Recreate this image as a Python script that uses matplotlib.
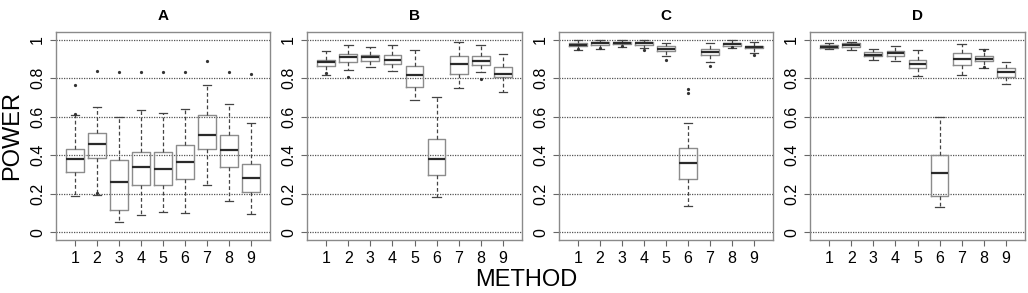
import matplotlib
matplotlib.use("Agg")
import matplotlib.pyplot as plt

plt.rcParams['font.family'] = ['Liberation Sans', 'DejaVu Sans']

panels = ["A", "B", "C", "D"]
methods = [1, 2, 3, 4, 5, 6, 7, 8, 9]
yticks = [0, 0.2, 0.4, 0.6, 0.8, 1]
ytick_labels = ["0", "0.2", "0.4", "0.6", "0.8", "1"]

# per panel: lower whisker, Q1, median, Q3, upper whisker, outliers
A_lo = [0.19, 0.195, 0.053, 0.09, 0.104, 0.099, 0.243, 0.163, 0.095]
A_q1 = [0.315, 0.385, 0.114, 0.243, 0.246, 0.277, 0.433, 0.341, 0.208]
A_med = [0.378, 0.459, 0.26, 0.341, 0.328, 0.367, 0.506, 0.425, 0.284]
A_q3 = [0.433, 0.513, 0.373, 0.419, 0.419, 0.454, 0.61, 0.506, 0.354]
A_hi = [0.607, 0.653, 0.598, 0.636, 0.619, 0.64, 0.766, 0.667, 0.567]
A_out = [[0.763, 0.612], [0.835, 0.205], [0.833], [0.833], [0.833], [0.833], [0.887], [0.83], [0.823]]

B_lo = [0.818, 0.844, 0.858, 0.835, 0.688, 0.185, 0.749, 0.83, 0.728]
B_q1 = [0.861, 0.882, 0.887, 0.875, 0.757, 0.298, 0.823, 0.867, 0.804]
B_med = [0.882, 0.908, 0.908, 0.896, 0.815, 0.383, 0.875, 0.891, 0.823]
B_q3 = [0.893, 0.927, 0.922, 0.919, 0.863, 0.484, 0.913, 0.913, 0.858]
B_hi = [0.939, 0.97, 0.962, 0.97, 0.945, 0.702, 0.986, 0.974, 0.925]
B_out = [[0.826], [0.806], [], [], [], [], [], [0.795], []]

C_lo = [0.945, 0.95, 0.96, 0.955, 0.913, 0.139, 0.882, 0.955, 0.93]
C_q1 = [0.965, 0.97, 0.977, 0.975, 0.939, 0.277, 0.922, 0.967, 0.955]
C_med = [0.974, 0.981, 0.985, 0.984, 0.951, 0.359, 0.936, 0.976, 0.96]
C_q3 = [0.983, 0.988, 0.99, 0.99, 0.965, 0.44, 0.951, 0.985, 0.968]
C_hi = [0.997, 0.997, 0.997, 0.997, 0.985, 0.57, 0.983, 0.997, 0.99]
C_out = [[0.953], [0.958], [0.968], [0.945], [0.895], [0.723, 0.742], [0.866], [0.96], [0.92]]

D_lo = [0.951, 0.948, 0.893, 0.887, 0.813, 0.133, 0.818, 0.853, 0.771]
D_q1 = [0.956, 0.96, 0.915, 0.913, 0.853, 0.189, 0.87, 0.887, 0.806]
D_med = [0.962, 0.97, 0.922, 0.93, 0.873, 0.307, 0.901, 0.899, 0.83]
D_q3 = [0.97, 0.983, 0.935, 0.939, 0.896, 0.402, 0.93, 0.913, 0.853]
D_hi = [0.985, 0.986, 0.953, 0.965, 0.948, 0.598, 0.978, 0.951, 0.885]
D_out = [[], [], [], [], [], [], [], [0.945, 0.86], []]

data = {
    "A": (A_lo, A_q1, A_med, A_q3, A_hi, A_out),
    "B": (B_lo, B_q1, B_med, B_q3, B_hi, B_out),
    "C": (C_lo, C_q1, C_med, C_q3, C_hi, C_out),
    "D": (D_lo, D_q1, D_med, D_q3, D_hi, D_out),
}

W, H = 1028, 293
fig = plt.figure(figsize=(W / 100, H / 100), dpi=100)
xpix = [(56, 270), (307, 522), (559, 773), (810, 1025)]
ytop, ybot = 32, 240

frame_c = "#8a8a8a"
for (x0, x1), name in zip(xpix, panels):
    ax = fig.add_axes([x0 / W, 1 - ybot / H, (x1 - x0) / W, (ybot - ytop) / H])
    lo, q1, med, q3, hi, out = data[name]
    stats = []
    for i in range(len(methods)):
        stats.append(dict(whislo=lo[i], q1=q1[i], med=med[i], q3=q3[i],
                          whishi=hi[i], fliers=out[i]))
    for y in yticks:
        ax.axhline(y, color="#555555", lw=0.9, ls=(0, (1.0, 1.0)), zorder=0)
    ax.bxp(stats, positions=methods, widths=0.8, capwidths=0.4, showfliers=True,
           boxprops=dict(color="#8c8c8c", lw=1.0),
           medianprops=dict(color="#2a2a2a", lw=1.6),
           whiskerprops=dict(color="#444444", lw=0.9, ls=(0, (3, 2))),
           capprops=dict(color="#444444", lw=0.9),
           flierprops=dict(marker="o", markersize=1.3, markerfacecolor="#333333",
                           markeredgecolor="#333333", linestyle="none"))
    ax.set_xlim(0.14, 9.86)
    ax.set_ylim(-0.04, 1.04)
    ax.set_xticks(methods)
    ax.set_xticklabels([str(m) for m in methods], fontsize=11.5)
    ax.set_yticks(yticks)
    ax.set_yticklabels(ytick_labels, fontsize=11.5, rotation=90, va="center")
    ax.tick_params(direction="out", length=4, width=0.8, color="#666666", pad=4)
    for s in ax.spines.values():
        s.set_color(frame_c)
        s.set_linewidth(1.0)
    ax.set_title(name, fontsize=11, fontweight="bold", pad=9)

fig.text(12 / W, 1 - 136 / H, "POWER", rotation=90, fontsize=17, ha="center", va="center")
fig.text(526 / W, 1 - 280 / H, "METHOD", fontsize=17, ha="center", va="center")

fig.savefig("out.png", dpi=100)
